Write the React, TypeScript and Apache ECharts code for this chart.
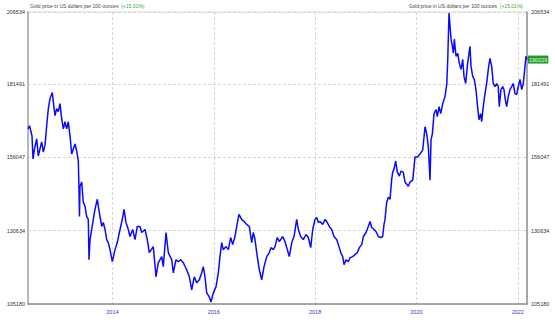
import React, { useEffect, useRef } from "react";
import * as echarts from "echarts";

const headerText = "Gold price in US dollars per 100 ounces";
const changeText = "(+15.01%)";
const yTicks = [105180, 130634, 156047, 181491, 206534];
const xTicks = [2014, 2016, 2018, 2020, 2022];
const xMin = 2012.334;
const xMax = 2022.182;

const years = [
  2012.334, 2012.364, 2012.393, 2012.413, 2012.433, 2012.462, 2012.506, 2012.537, 2012.571, 2012.604,
  2012.636, 2012.67, 2012.703, 2012.735, 2012.768, 2012.814, 2012.833, 2012.867, 2012.9, 2012.932,
  2012.966, 2012.999, 2013.031, 2013.064, 2013.098, 2013.129, 2013.163, 2013.196, 2013.228, 2013.262,
  2013.295, 2013.327, 2013.34, 2013.35, 2013.36, 2013.394, 2013.425, 2013.459, 2013.492, 2013.524,
  2013.538, 2013.558, 2013.591, 2013.623, 2013.656, 2013.702, 2013.741, 2013.789, 2013.82, 2013.854,
  2013.887, 2013.919, 2013.952, 2013.998, 2014.051, 2014.096, 2014.15, 2014.195, 2014.229, 2014.268,
  2014.313, 2014.347, 2014.4, 2014.446, 2014.491, 2014.544, 2014.578, 2014.643, 2014.688, 2014.728,
  2014.807, 2014.86, 2014.906, 2014.973, 2015.004, 2015.058, 2015.103, 2015.17, 2015.202, 2015.255,
  2015.3, 2015.348, 2015.399, 2015.466, 2015.518, 2015.565, 2015.616, 2015.664, 2015.715, 2015.762,
  2015.794, 2015.827, 2015.861, 2015.912, 2015.946, 2015.991, 2016.044, 2016.09, 2016.123, 2016.157,
  2016.188, 2016.242, 2016.287, 2016.334, 2016.374, 2016.419, 2016.453, 2016.498, 2016.551, 2016.597,
  2016.65, 2016.701, 2016.749, 2016.78, 2016.814, 2016.859, 2016.899, 2016.946, 2016.992, 2017.045,
  2017.096, 2017.13, 2017.175, 2017.209, 2017.254, 2017.294, 2017.361, 2017.406, 2017.44, 2017.491,
  2017.539, 2017.584, 2017.637, 2017.669, 2017.716, 2017.767, 2017.821, 2017.866, 2017.913, 2017.953,
  2017.998, 2018.032, 2018.063, 2018.097, 2018.15, 2018.196, 2018.229, 2018.28, 2018.328, 2018.373,
  2018.426, 2018.472, 2018.506, 2018.545, 2018.571, 2018.61, 2018.655, 2018.689, 2018.742, 2018.788,
  2018.833, 2018.873, 2018.92, 2018.952, 2019.005, 2019.05, 2019.084, 2019.117, 2019.163, 2019.202,
  2019.248, 2019.295, 2019.334, 2019.36, 2019.38, 2019.413, 2019.445, 2019.479, 2019.512, 2019.532,
  2019.558, 2019.591, 2019.623, 2019.662, 2019.696, 2019.741, 2019.775, 2019.808, 2019.84, 2019.873,
  2019.927, 2019.972, 2020.018, 2020.071, 2020.124, 2020.17, 2020.203, 2020.235, 2020.268, 2020.288,
  2020.314, 2020.347, 2020.387, 2020.412, 2020.446, 2020.479, 2020.519, 2020.564, 2020.598, 2020.618,
  2020.643, 2020.663, 2020.683, 2020.708, 2020.728, 2020.748, 2020.781, 2020.815, 2020.846, 2020.88,
  2020.913, 2020.939, 2020.972, 2021.004, 2021.037, 2021.057, 2021.077, 2021.11, 2021.142, 2021.175,
  2021.201, 2021.234, 2021.268, 2021.287, 2021.319, 2021.353, 2021.386, 2021.418, 2021.451, 2021.485,
  2021.516, 2021.55, 2021.583, 2021.615, 2021.635, 2021.668, 2021.702, 2021.728, 2021.753, 2021.781,
  2021.812, 2021.846, 2021.88, 2021.911, 2021.945, 2021.978, 2022.01, 2022.044, 2022.077, 2022.109,
  2022.129, 2022.162, 2022.182,
];

const prices = [
  165990, 167040, 164950, 163550, 155510, 159000, 162500, 156560, 159000, 161450,
  157950, 160400, 167040, 172980, 176480, 178580, 175430, 170540, 172980, 171930,
  174730, 169490, 165990, 168440, 165990, 168440, 163550, 157260, 159000, 160750,
  158300, 154810, 145020, 135590, 146070, 147470, 140480, 139080, 135590, 134540,
  120560, 127550, 131040, 134540, 138030, 141530, 136980, 132090, 133490, 131040,
  127550, 126500, 124050, 119860, 124050, 126500, 131040, 134540, 138030, 133490,
  131040, 128600, 131040, 127550, 132090, 132090, 130000, 131040, 127550, 123000,
  125100, 114620, 119510, 121610, 118110, 130000, 123000, 120560, 116010, 120560,
  119860, 120560, 119510, 117060, 114620, 110070, 114620, 112520, 113570, 116010,
  118110, 114620, 109030, 107630, 105880, 109030, 111120, 116010, 121610, 126500,
  124050, 125100, 124050, 128250, 125800, 128600, 132090, 136290, 134540, 133840,
  132790, 132090, 126500, 130000, 127550, 121610, 117060, 113570, 118110, 121610,
  123000, 124750, 124050, 125100, 128250, 126850, 128600, 126850, 124750, 121610,
  126500, 128600, 134540, 131040, 128600, 127550, 129300, 128250, 124750, 131040,
  134540, 135240, 133490, 133840, 132790, 134540, 133840, 132090, 131040, 128600,
  127550, 125100, 123000, 121610, 118810, 120560, 119860, 121260, 121610, 122310,
  123000, 124750, 125800, 128600, 130000, 132090, 133840, 131740, 131040, 130340,
  128600, 128250, 128600, 132790, 134540, 140480, 142230, 141530, 148520, 150960,
  152010, 154810, 150960, 149570, 151310, 150960, 147470, 146770, 146070, 147470,
  148170, 156210, 156210, 157260, 158650, 166690, 164250, 159700, 148170, 162150,
  164250, 171240, 172630, 170190, 173680, 171240, 174730, 177180, 181370, 190110,
  206190, 201640, 197100, 194650, 192210, 197100, 191160, 192210, 188710, 186610,
  190110, 184170, 181720, 187660, 192210, 194650, 187660, 184170, 183120, 179620,
  174730, 169140, 171240, 168440, 173680, 178230, 181720, 186610, 190460, 187660,
  181720, 180670, 181720, 180670, 173680, 179620, 180670, 179620, 176130, 173680,
  177180, 179620, 180670, 181720, 178230, 177880, 180670, 183120, 179620, 181720,
  185220, 191160, 190029,
];

const FONT = "Liberation Sans";

export default function App() {
  const ref = useRef<HTMLDivElement>(null);
  useEffect(() => {
    if (!ref.current) return;
    document.body.style.margin = "0";
    const chart = echarts.init(ref.current, null, { renderer: "svg" });
    const data = years.map((y, i) => [y, prices[i]]);
    const headerRich = {
      g: { color: "#33aa33", fontSize: 5, fontFamily: FONT },
    };
    const yAxisBase = (pos: "left" | "right") => ({
      type: "value",
      position: pos,
      min: yTicks[0],
      max: yTicks[yTicks.length - 1],
      axisLine: {
        show: true,
        lineStyle: { color: pos === "left" ? "#b8b8b8" : "#909090", width: pos === "left" ? 2 : 1.5 },
      },
      axisTick: { show: false, customValues: yTicks },
      axisLabel: {
        customValues: yTicks,
        fontSize: 5.5,
        fontFamily: FONT,
        color: "#333",
        margin: pos === "left" ? 3 : 4,
        formatter: (v: number) => String(v),
      },
      splitLine: pos === "left"
        ? { show: true, lineStyle: { color: "#d6d6d6", type: [3, 2], width: 1 } }
        : { show: false },
    });
    const titleStyle = {
      fontSize: 5,
      color: "#444",
      fontWeight: "normal",
      fontFamily: FONT,
      rich: headerRich,
    };
    chart.setOption({
      animation: false,
      backgroundColor: "#fff",
      title: [
        { left: 30, top: 3, padding: 0, text: `${headerText}  {g|${changeText}}`, textStyle: titleStyle },
        { right: 32, top: 3, padding: 0, text: `${headerText}  {g|${changeText}}`, textStyle: titleStyle },
      ],
      grid: {
        left: 28,
        right: 28,
        top: 12,
        bottom: 29,
        show: true,
        borderColor: "#dcdcdc",
        borderWidth: 1,
      },
      xAxis: {
        type: "value",
        min: xMin,
        max: xMax,
        axisLine: { show: true, onZero: false, lineStyle: { color: "#909090", width: 1.5 } },
        axisTick: { show: false, customValues: xTicks },
        axisLabel: {
          customValues: xTicks,
          fontSize: 5.5,
          fontFamily: FONT,
          color: "#3333dd",
          margin: 5,
          formatter: (v: number) => String(Math.round(v)),
        },
        splitLine: { show: true, lineStyle: { color: "#d6d6d6", type: [3, 2], width: 1 } },
      },
      yAxis: [yAxisBase("left"), yAxisBase("right")],
      series: [
        {
          type: "line",
          data,
          yAxisIndex: 0,
          showSymbol: false,
          lineStyle: { color: "#0a0aff", width: 1.5 },
          endLabel: {
            show: true,
            formatter: (p: any) => String(p.value[1]),
            backgroundColor: "#229922",
            color: "#e8ffe8",
            fontSize: 5.5,
            fontFamily: FONT,
            padding: [1, 1, 1, 1],
            distance: 1,
          },
        },
      ],
    });
    return () => chart.dispose();
  }, []);
  return <div ref={ref} style={{ width: 555, height: 333 }} />;
}
